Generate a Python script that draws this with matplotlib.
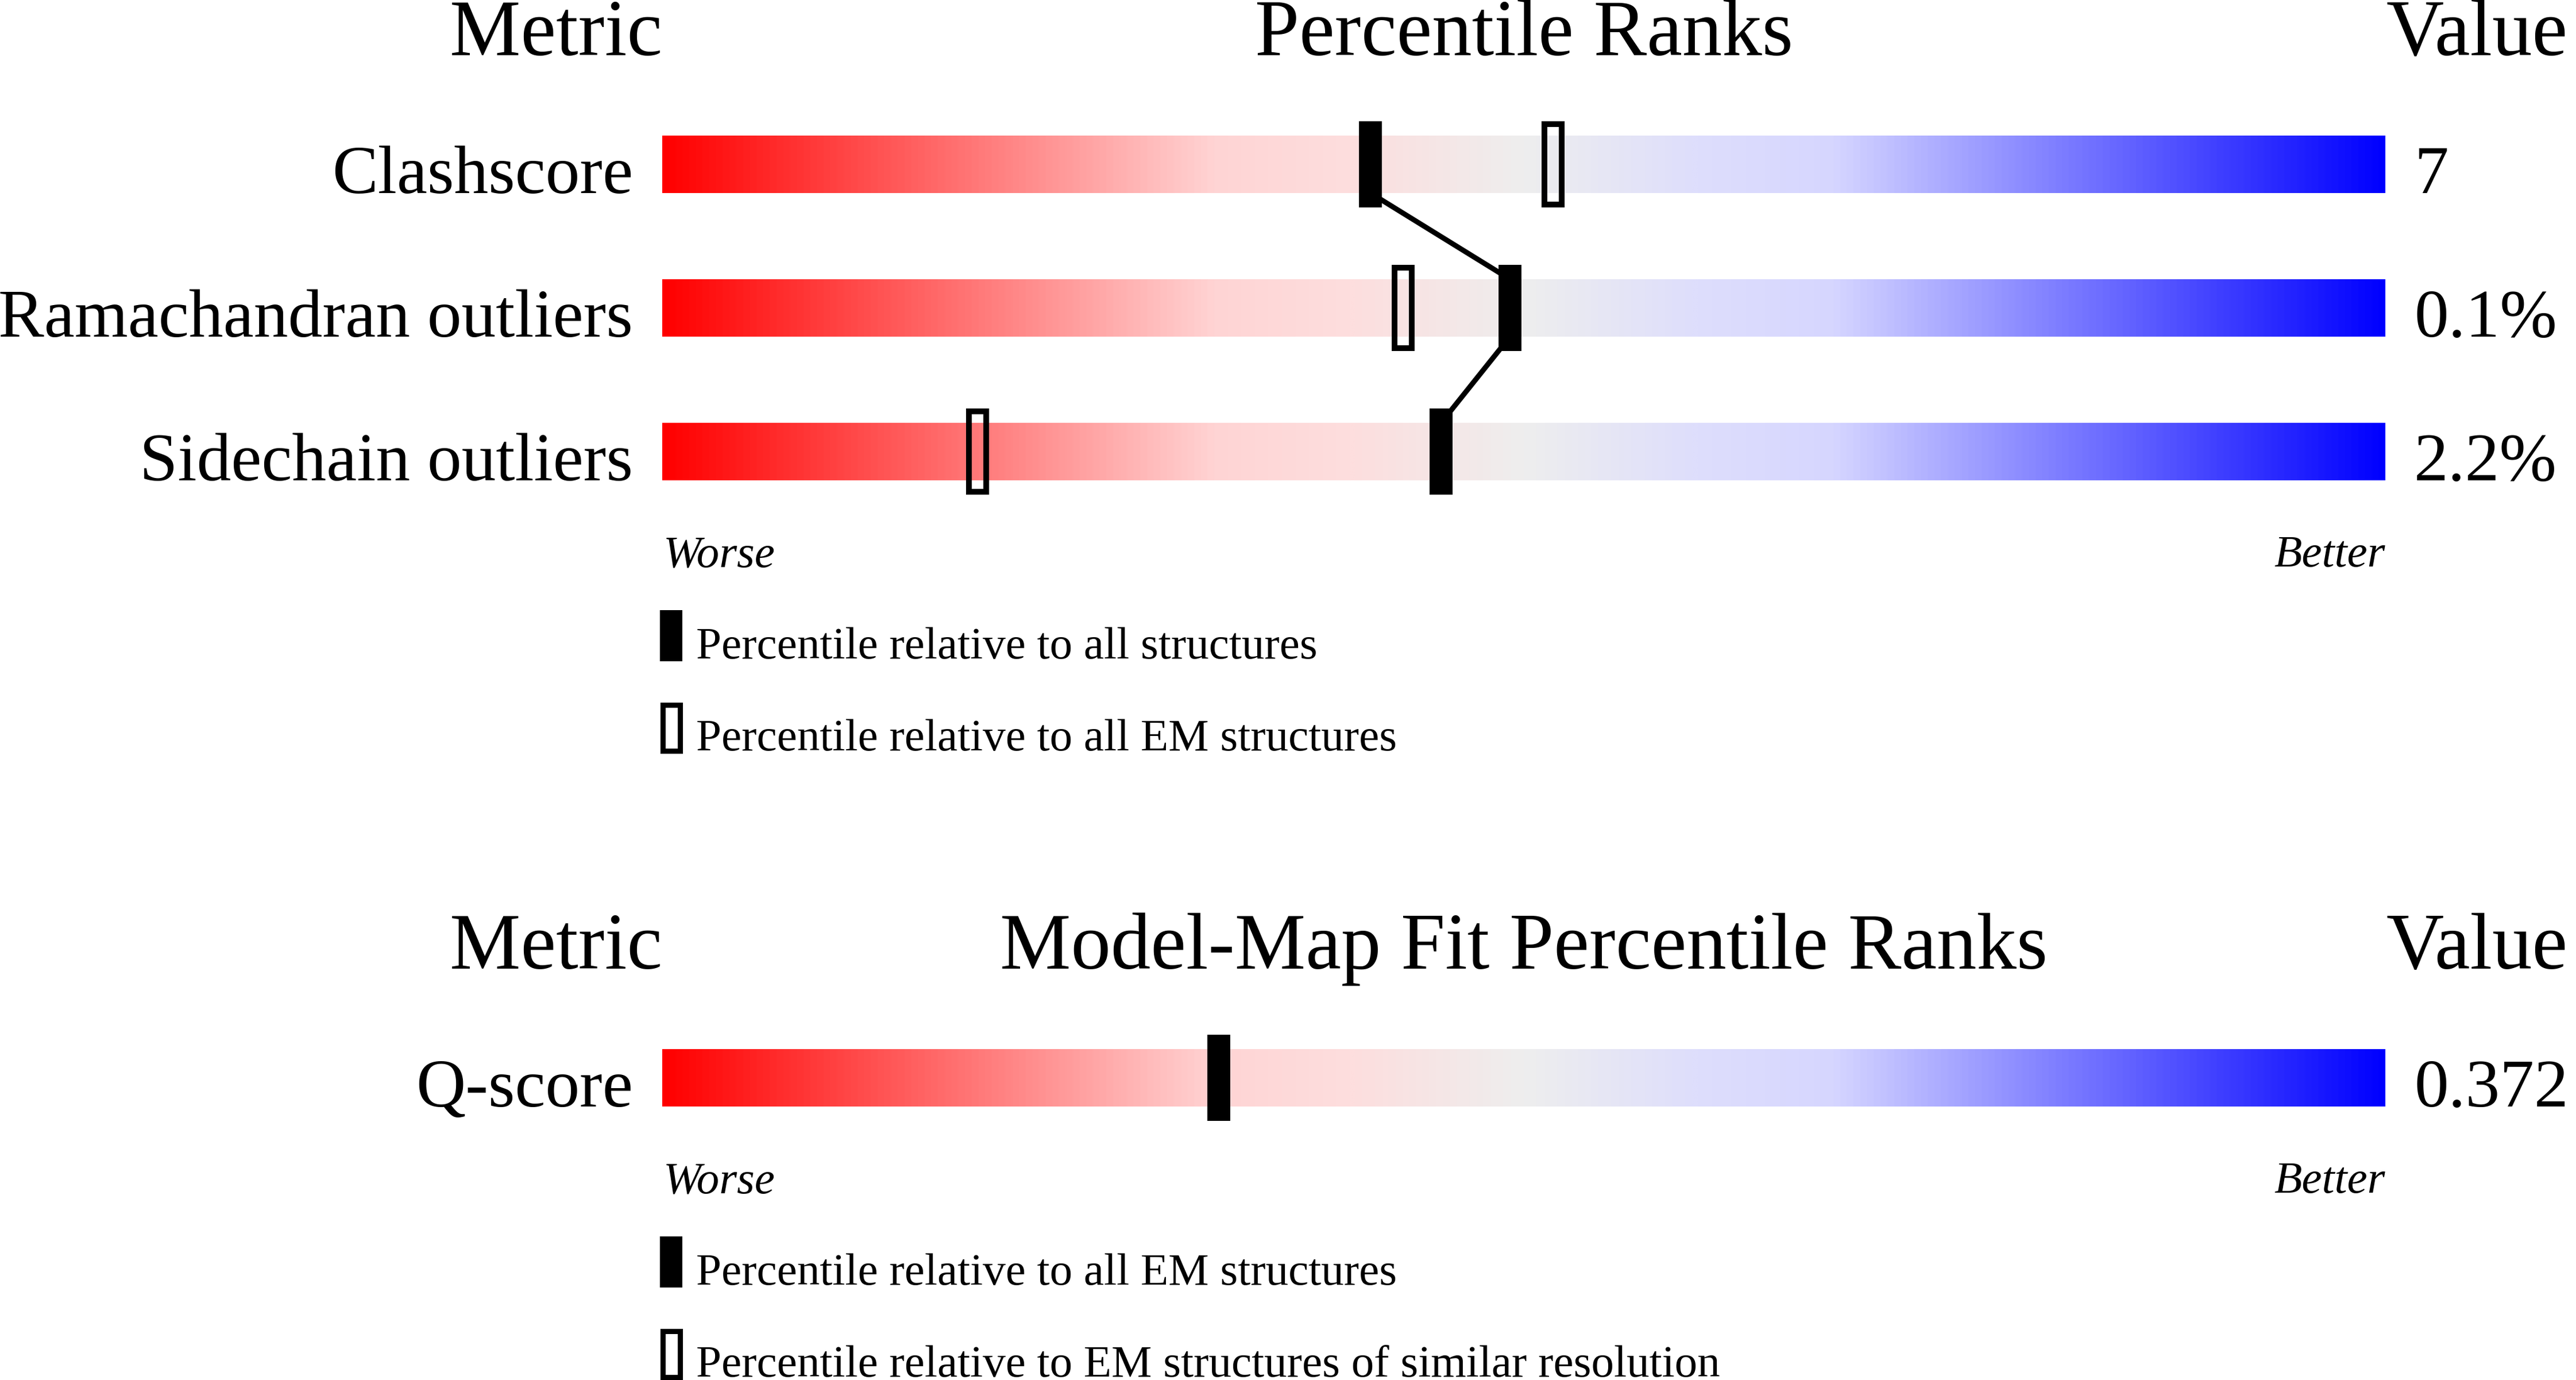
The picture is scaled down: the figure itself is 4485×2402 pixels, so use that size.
import numpy as np
import matplotlib
matplotlib.use("Agg")
import matplotlib.pyplot as plt
from matplotlib.colors import LinearSegmentedColormap
from matplotlib.patches import Rectangle

plt.rcParams['font.family'] = ['Liberation Serif', 'DejaVu Serif']

# Geometry chart: percentile ranks
metrics = ["Clashscore", "Ramachandran outliers", "Sidechain outliers"]
values = ["7", "0.1%", "2.2%"]
pct_all = [41.1, 49.2, 45.2]   # percentile relative to all structures
pct_em = [51.7, 43.0, 18.3]    # percentile relative to all EM structures

# Model-map fit chart
fit_metrics = ["Q-score"]
fit_values = ["0.372"]
fit_pct_em = [32.3]            # percentile relative to all EM structures

legend_top = ["Percentile relative to all structures",
              "Percentile relative to all EM structures"]
legend_bottom = ["Percentile relative to all EM structures",
                 "Percentile relative to EM structures of similar resolution"]

# layout (pixels, dpi=100)
W, H = 4485, 2402
bar_x0, bar_x1 = 1153, 4153
bar_h = 100
row_step = 250
big, mid, small = 100, 86, 57

# red -> pink -> grey -> lavender -> blue slider
cmap = LinearSegmentedColormap.from_list("slider", [
    (0.00, "#ff0000"),
    (0.32, "#ffd4d4"),
    (0.40, "#fddede"),
    (0.50, "#eeeeee"),
    (0.60, "#dedefc"),
    (0.68, "#d6d6ff"),
    (1.00, "#0000ff")])
grad = np.linspace(0, 1, 1024)[None, :]

fig = plt.figure(figsize=(W / 100, H / 100), dpi=100)
ax = fig.add_axes([0, 0, 1, 1])
ax.set_xlim(0, W)
ax.set_ylim(H, 0)
ax.axis('off')


def px(p):
    return bar_x0 + p / 100.0 * (bar_x1 - bar_x0)


def marker(x, top, filled, w=40, h=150, lw_px=10):
    if filled:
        ax.add_patch(Rectangle((x - w / 2, top), w, h, facecolor='black',
                               edgecolor='none', zorder=5))
    else:
        s = lw_px / 2
        ax.add_patch(Rectangle((x - w / 2 + s, top + s), w - lw_px, h - lw_px,
                               facecolor='none', edgecolor='black',
                               linewidth=lw_px * 0.72, joinstyle='miter', zorder=5))


def panel(y0, title, names, vals, pcts_filled, pcts_empty, legend, connect):
    ax.text(bar_x0, y0, "Metric", ha='right', va='baseline', fontsize=big)
    ax.text((bar_x0 + bar_x1) / 2, y0, title, ha='center', va='baseline', fontsize=big)
    ax.text(bar_x1 + 2, y0, "Value", ha='left', va='baseline', fontsize=big)
    tops = [y0 + 140 + row_step * i for i in range(len(names))]
    for i, top in enumerate(tops):
        ax.imshow(grad, cmap=cmap, aspect='auto', interpolation='bilinear',
                  extent=(bar_x0, bar_x1, top + bar_h, top), zorder=1)
        ax.text(bar_x0 - 51, top + bar_h, names[i], ha='right', va='baseline', fontsize=mid)
        ax.text(bar_x1 + 50, top + bar_h, vals[i], ha='left', va='baseline', fontsize=mid)
        marker(px(pcts_filled[i]), top - 25, True)
        if pcts_empty is not None:
            marker(px(pcts_empty[i]), top - 25, False)
    if connect:
        for i in range(len(tops) - 1):
            ax.plot([px(pcts_filled[i]), px(pcts_filled[i + 1])],
                    [tops[i] + bar_h, tops[i + 1]], color='black',
                    linewidth=6.5, solid_capstyle='butt', zorder=4)
    yb = tops[-1] + bar_h + 150
    ax.text(bar_x0 + 2, yb, "Worse", ha='left', va='baseline', fontsize=small, style='italic')
    ax.text(bar_x1, yb, "Better", ha='right', va='baseline', fontsize=small, style='italic')
    for k, lab in enumerate(legend):
        mt = yb + 76 + 160 * k
        ax.add_patch(Rectangle((1149, mt), 39, 89, facecolor='black' if k == 0 else 'none',
                               edgecolor='none', zorder=5))
        if k == 1:
            ax.add_patch(Rectangle((1149 + 4.5, mt + 4.5), 30, 80, facecolor='none',
                                   edgecolor='black', linewidth=9 * 0.72,
                                   joinstyle='miter', zorder=5))
        ax.text(1212, mt + 84, lab, ha='left', va='baseline', fontsize=small)


panel(96, "Percentile Ranks", metrics, values, pct_all, pct_em, legend_top, True)
panel(1686, "Model-Map Fit Percentile Ranks", fit_metrics, fit_values, fit_pct_em, None,
      legend_bottom, False)

fig.savefig("out.png", dpi=100, facecolor='white')
